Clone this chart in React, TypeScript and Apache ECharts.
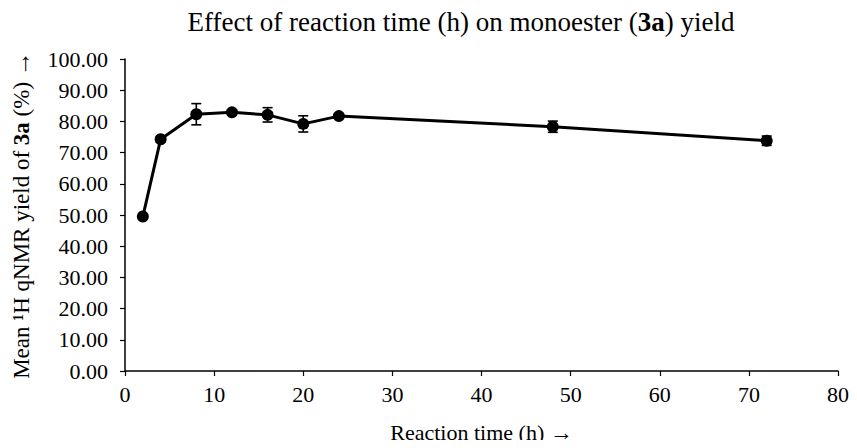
import React, { useEffect, useRef } from "react";
import * as echarts from "echarts";

const times = [2, 4, 8, 12, 16, 20, 24, 48, 72];
const yields = [49.5, 74.3, 82.3, 82.9, 82.1, 79.2, 81.7, 78.3, 73.8];
const errors = [0.3, 0.9, 3.4, 0.6, 2.3, 2.6, 0.7, 1.8, 1.5];
const titleParts = ["Effect of reaction time (h) on monoester (", "3a", ") yield"];
const yNameParts = ["Mean ¹H qNMR yield of ", "3a", " (%) "];
const xNameParts = ["Reaction time (h) "];
const arrow = "→";

const FONT = "Liberation Serif";

export default function App() {
  const ref = useRef<HTMLDivElement>(null);
  useEffect(() => {
    if (!ref.current) return;
    const chart = echarts.init(ref.current, null, { renderer: "svg" });
    const lineData = times.map((t, i) => [t, yields[i]]);
    const errData = times.map((t, i) => [t, yields[i] - errors[i], yields[i] + errors[i]]);
    const yRich = {
      n: { fontFamily: FONT, fontSize: 23, color: "#000" },
      b: { fontFamily: FONT, fontSize: 23, color: "#000", fontWeight: "bold" },
      a: { fontFamily: FONT, fontSize: 25, color: "#000" },
    };
    const xRich = {
      n: { fontFamily: FONT, fontSize: 22, color: "#000" },
      a: { fontFamily: FONT, fontSize: 23, color: "#000" },
    };
    chart.setOption({
      animation: false,
      backgroundColor: "#fff",
      textStyle: { fontFamily: FONT },
      title: {
        text: `{n|${titleParts[0]}}{b|${titleParts[1]}}{n|${titleParts[2]}}`,
        left: 456,
        textAlign: "center",
        top: 3,
        textStyle: {
          fontFamily: FONT,
          fontSize: 27,
          fontWeight: "normal",
          color: "#000",
          rich: {
            n: { fontFamily: FONT, fontSize: 27, fontWeight: "normal", color: "#000" },
            b: { fontFamily: FONT, fontSize: 27, color: "#000", fontWeight: "bold" },
          },
        },
      },
      grid: { left: 125, right: 19, top: 59, bottom: 77, containLabel: false, outerBoundsMode: "none" },
      xAxis: {
        type: "value",
        min: 0,
        max: 80,
        interval: 10,
        name: `{n|${xNameParts[0]}}{a|${arrow}}`,
        nameLocation: "middle",
        nameGap: 50,
        nameTextStyle: { fontFamily: FONT, fontSize: 22, color: "#000", rich: xRich },
        axisLine: { show: true, lineStyle: { color: "#000", width: 1.5 } },
        axisTick: { show: true, inside: false, length: 5, lineStyle: { color: "#000", width: 1.2 } },
        axisLabel: { fontFamily: FONT, fontSize: 22, color: "#000", margin: 12 },
        splitLine: { show: false },
      },
      yAxis: {
        type: "value",
        min: 0,
        max: 100,
        interval: 10,
        name: `{n|${yNameParts[0]}}{b|${yNameParts[1]}}{n|${yNameParts[2]}}{a|${arrow}}`,
        nameLocation: "middle",
        nameGap: 91,
        nameRotate: 90,
        nameTextStyle: { fontFamily: FONT, fontSize: 23, color: "#000", rich: yRich },
        axisLine: { show: true, lineStyle: { color: "#000", width: 1.5 } },
        axisTick: { show: true, inside: false, length: 5, lineStyle: { color: "#000", width: 1.2 } },
        axisLabel: {
          fontFamily: FONT,
          fontSize: 22,
          color: "#000",
          margin: 17,
          formatter: (v: number) => v.toFixed(2),
        },
        splitLine: { show: false },
      },
      series: [
        {
          type: "custom",
          data: errData,
          z: 3,
          renderItem: (params: any, api: any) => {
            const x = api.value(0);
            const lo = api.coord([x, api.value(1)]);
            const hi = api.coord([x, api.value(2)]);
            const cw = 5;
            const style = { stroke: "#000", lineWidth: 1.6 };
            return {
              type: "group",
              children: [
                { type: "line", shape: { x1: lo[0], y1: lo[1], x2: hi[0], y2: hi[1] }, style },
                { type: "line", shape: { x1: hi[0] - cw, y1: hi[1], x2: hi[0] + cw, y2: hi[1] }, style },
                { type: "line", shape: { x1: lo[0] - cw, y1: lo[1], x2: lo[0] + cw, y2: lo[1] }, style },
              ],
            };
          },
        },
        {
          type: "line",
          data: lineData,
          z: 4,
          symbol: "circle",
          symbolSize: 12,
          lineStyle: { color: "#000", width: 3 },
          itemStyle: { color: "#000" },
        },
      ],
    });
    return () => chart.dispose();
  }, []);
  return <div ref={ref} style={{ width: 857, height: 448, margin: -8 }} />;
}
